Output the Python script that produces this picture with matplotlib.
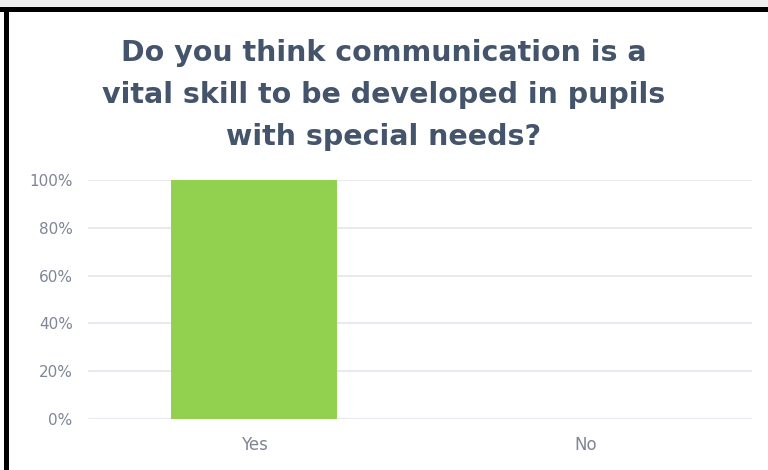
import matplotlib
matplotlib.use('Agg')
import matplotlib.pyplot as plt
from matplotlib.patches import Rectangle
from matplotlib.ticker import PercentFormatter

categories = ['Yes', 'No']
shares = [100, 0]
y_ticks = [0, 20, 40, 60, 80, 100]
title = 'Do you think communication is a\nvital skill to be developed in pupils\nwith special needs?'

W, H = 768, 470
fig = plt.figure(figsize=(W / 100, H / 100), dpi=100)
fig.patch.set_facecolor('white')

# grey strip above frame, black frame lines (left + top)
fig.add_artist(Rectangle((0, 1 - 7 / H), 1, 7 / H, transform=fig.transFigure,
                         facecolor='#EFEFEF', edgecolor='none', zorder=0))
fig.add_artist(Rectangle((0, 1 - 12 / H), 1, 5 / H, transform=fig.transFigure,
                         facecolor='black', edgecolor='none', zorder=5))
fig.add_artist(Rectangle((4 / W, 0), 5 / W, 1 - 7 / H, transform=fig.transFigure,
                         facecolor='black', edgecolor='none', zorder=5))

ax = fig.add_axes([88 / W, 51 / H, 664 / W, 239 / H])
x = range(len(categories))
ax.bar(x, shares, width=0.5, color='#92D050', zorder=3)

ax.set_xlim(-0.5, len(categories) - 0.5)
ax.set_ylim(0, 100)
ax.set_yticks(y_ticks)
ax.yaxis.set_major_formatter(PercentFormatter(decimals=0))
ax.set_xticks(list(x))
ax.set_xticklabels(categories)
ax.grid(axis='y', color='#E9E9F0', linewidth=1.5, zorder=0)
for s in ax.spines.values():
    s.set_visible(False)
ax.tick_params(axis='both', length=0, colors='#7F8595', labelsize=11)
ax.tick_params(axis='y', pad=11)
ax.tick_params(axis='x', pad=12, labelsize=12)

fig.text(0.5, 1 - 95 / H, title, ha='center', va='center', fontsize=20.5,
         fontweight='bold', color='#44546A', linespacing=1.62)

fig.savefig('out.png', dpi=100)
